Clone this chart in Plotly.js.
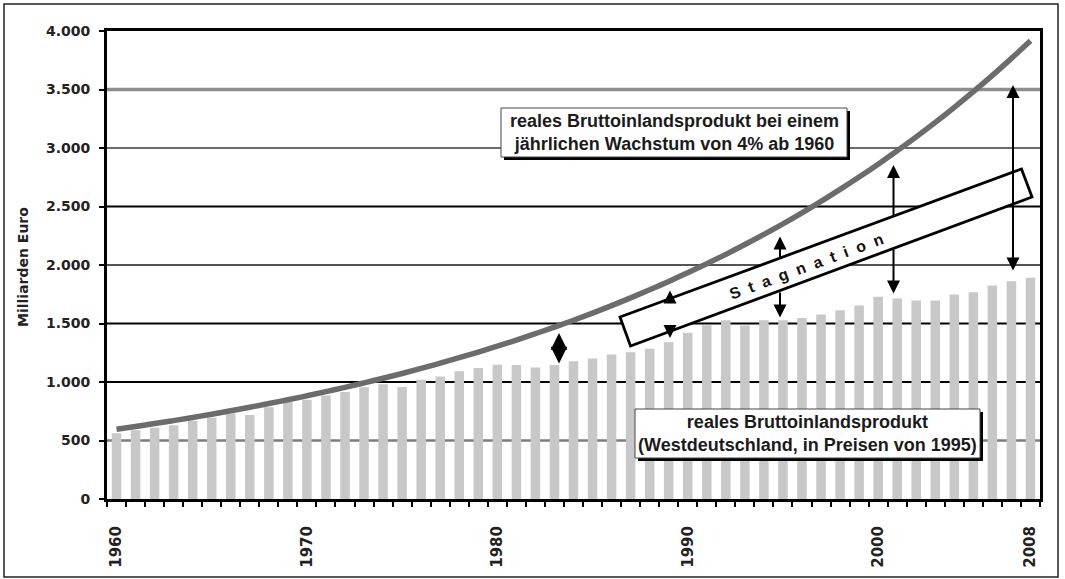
<!DOCTYPE html>
<html>
<head>
<meta charset="utf-8">
<script src="https://cdn.plot.ly/plotly-3.0.1.min.js"></script>
<style>
html,body{margin:0;padding:0;background:#fff;}
#chart{width:1065px;height:579px;}
</style>
</head>
<body>
<div id="chart"></div>
<script>
// ---- data ----
const years = [1960,1961,1962,1963,1964,1965,1966,1967,1968,1969,
               1970,1971,1972,1973,1974,1975,1976,1977,1978,1979,
               1980,1981,1982,1983,1984,1985,1986,1987,1988,1989,
               1990,1991,1992,1993,1994,1995,1996,1997,1998,1999,
               2000,2001,2002,2003,2004,2005,2006,2007,2008];
// real GDP (bn Euro, prices of 1995)
const realGDP = [562,588,610,630,668,695,730,718,785,828,
                 848,884,915,955,980,957,1020,1048,1091,1120,
                 1148,1145,1125,1145,1177,1200,1234,1254,1285,1340,
                 1420,1485,1528,1482,1528,1528,1548,1577,1614,1654,
                 1728,1714,1697,1697,1748,1768,1825,1862,1891];
const growth4 = [596,620,645,670,697,725,754,784,816,848,
                 882,918,954,993,1032,1073,1116,1161,1208,1256,
                 1306,1358,1413,1469,1528,1589,1653,1719,1788,1859,
                 1934,2011,2091,2175,2262,2352,2446,2544,2646,2752,
                 2862,2976,3095,3219,3348,3482,3621,3766,3916];
const xLabelYears = [1960,1970,1980,1990,2000,2008];
const yTickVals = [0,500,1000,1500,2000,2500,3000,3500,4000];
const yTickText = ["0","500","1.000","1.500","2.000","2.500","3.000","3.500","4.000"];
const gridVals = [500,1000,1500,2000,2500,3000,3500];
const yTitle = "Milliarden Euro";
const labelGrowth = "reales Bruttoinlandsprodukt bei einem<br>jährlichen Wachstum von 4% ab 1960";
const labelReal = "reales Bruttoinlandsprodukt<br>(Westdeutschland, in Preisen von 1995)";
const labelStag = "Stagnation";

// ---- layout geometry ----
const W = 1065, H = 579;
const L = 107, R = 1040, T = 31, B = 499;
const PW = R - L, PH = B - T;
const px = p => (p - L) / PW;
const py = p => (B - p) / PH;

const gridColors = ['#7c7c7c','#000000','#000000','#555555','#000000','#6c6c6c','#8e8e8e'];
const gridWidths = [2.5,2,2,2,2,2,3.5];

const shapes = [];
gridVals.forEach((v,i) => {
  shapes.push({type:'line', layer:'below', xref:'paper', yref:'y', x0:0, x1:1, y0:v, y1:v,
               line:{color:gridColors[i], width:gridWidths[i]}});
});
function boxWithShadow(x0,y0,x1,y1){
  shapes.push({type:'rect', layer:'above', xref:'paper', yref:'paper',
    x0:px(x0+3), x1:px(x1+3), y0:py(y1+3), y1:py(y0+3),
    fillcolor:'#000', line:{width:0}});
  shapes.push({type:'rect', layer:'above', xref:'paper', yref:'paper',
    x0:px(x0), x1:px(x1), y0:py(y1), y1:py(y0),
    fillcolor:'#fff', line:{color:'#444', width:1}});
}
boxWithShadow(501,108,847,157);
boxWithShadow(635,409,980,458);

// rotated "Stagnation" box
const stag = [[620,317],[1021.5,169],[1032,197],[630.5,346]];
shapes.push({type:'path', layer:'above', xref:'paper', yref:'paper',
  path: 'M' + stag.map(p => px(p[0]).toFixed(5) + ',' + py(p[1]).toFixed(5)).join(' L') + ' Z',
  fillcolor:'#fff', line:{color:'#000', width:2.8}});

// outer frame
shapes.push({type:'rect', layer:'above', xref:'paper', yref:'paper',
  x0:px(4), x1:px(1058), y0:py(577), y1:py(4), line:{color:'#222', width:1.5}});

const boxFont = {family:'Liberation Sans, Arial, sans-serif', size:18, color:'#1b1b1b', weight:'bold'};
const spaced = labelStag.split('').join('\u00a0\u00a0');

const annotations = [
  {xref:'paper', yref:'paper', x:px(23), y:py(267), text:yTitle, showarrow:false, textangle:-90,
   xanchor:'center', yanchor:'middle',
   font:{family:'DejaVu Sans, sans-serif', size:14, color:'#222', weight:'bold'}},
  {xref:'paper', yref:'paper', x:px(674), y:py(132.5), text:labelGrowth, showarrow:false,
   xanchor:'center', yanchor:'middle', align:'center', font:boxFont},
  {xref:'paper', yref:'paper', x:px(807.5), y:py(433.5), text:labelReal, showarrow:false,
   xanchor:'center', yanchor:'middle', align:'center', font:boxFont},
  {xref:'paper', yref:'paper', x:px(806), y:py(266), showarrow:false, textangle:-20.3,
   xanchor:'center', yanchor:'middle', text:spaced,
   font:{family:'Liberation Sans, Arial, sans-serif', size:16, color:'#111', weight:'bold'}}
];
function arrow(x, yTip, yTail, opts){
  annotations.push(Object.assign({xref:'paper', yref:'paper', x:px(x), y:py(yTip),
    ax:0, ay:yTail - yTip, axref:'pixel', ayref:'pixel', text:'', showarrow:true,
    arrowhead:2, arrowsize:1.3, arrowwidth:2, arrowcolor:'#000', standoff:0, startstandoff:0}, opts||{}));
}
// 1983 short thick double arrow
arrow(559, 333, 365, {arrowside:'end+start', startarrowhead:2, arrowwidth:3.5, arrowsize:0.95, startarrowsize:0.95});
// arrows partly hidden by the Stagnation box
arrow(670, 290.5, 299);
arrow(670, 338, 332);
arrow(780, 236.5, 259);
arrow(780, 317.5, 291);
arrow(893.5, 165, 217);
arrow(893.5, 293.5, 248);
// 2007 long double arrow
arrow(1013, 85, 272, {arrowside:'end+start', startarrowhead:2, startarrowsize:1.3});

const yTickFont = {family:'DejaVu Sans, sans-serif', size:14, color:'#222', weight:'bold'};
const xTickFont = {family:'DejaVu Sans, sans-serif', size:15, color:'#222', weight:'bold'};

const data = [
  {type:'bar', x:years, y:realGDP, width:0.5, marker:{color:'#c8c8c8', line:{width:0}},
   hoverinfo:'skip', showlegend:false},
  {type:'scatter', mode:'lines', x:years, y:growth4,
   line:{color:'#6c6c6c', width:5.5, shape:'spline'}, hoverinfo:'skip', showlegend:false}
];

const layout = {
  width:W, height:H,
  margin:{l:L, r:W-R, t:T, b:H-B, pad:0},
  paper_bgcolor:'#fff', plot_bgcolor:'#fff',
  showlegend:false,
  xaxis:{range:[1959.5,2008.5], tickmode:'array', tickvals:xLabelYears, ticktext:xLabelYears.map(String),
    ticks:'', tickangle:-90, tickfont:xTickFont, ticklabelstandoff:18,
    showline:true, linecolor:'#000', linewidth:3, mirror:true, showgrid:false, zeroline:false, fixedrange:true,
    minor:{tickmode:'linear', tick0:1959.5, dtick:1, ticks:'outside', ticklen:5, tickwidth:2, tickcolor:'#000', showgrid:false}},
  yaxis:{range:[0,4000], tickmode:'array', tickvals:yTickVals, ticktext:yTickText,
    ticks:'outside', ticklen:5, tickwidth:2, tickcolor:'#000', tickfont:yTickFont, ticklabelstandoff:6,
    showline:true, linecolor:'#000', linewidth:3, mirror:true, showgrid:false, zeroline:false, fixedrange:true},
  shapes:shapes,
  annotations:annotations
};

Plotly.newPlot('chart', data, layout, {staticPlot:true, displayModeBar:false});
</script>
</body>
</html>
